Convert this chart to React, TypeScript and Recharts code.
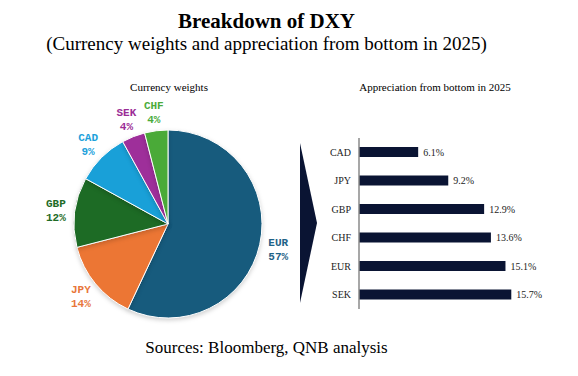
import React from "react";
import { PieChart, Pie, Cell, BarChart, Bar, XAxis, YAxis, LabelList } from "recharts";

const weightNames = ["EUR", "JPY", "GBP", "CAD", "SEK", "CHF"];
const weightValues = [57, 14, 12, 9, 4, 4];
const sliceColors = ["#175b7d", "#ec7634", "#1d6b25", "#19a0d8", "#9e2f9a", "#4aaa38"];
const labelColors = ["#1f6287", "#e8763a", "#1e6b26", "#1ba1db", "#9b2d96", "#4bab3b"];

const apprNames = ["CAD", "JPY", "GBP", "CHF", "EUR", "SEK"];
const apprValues = [6.1, 9.2, 12.9, 13.6, 15.1, 15.7];

const pieData = weightNames.map((name, i) => ({ name, value: weightValues[i] }));
const barData = apprNames.map((name, i) => ({ name, value: apprValues[i] }));

const serif = "'Liberation Serif', 'Times New Roman', serif";
const mono = "'Liberation Mono', 'DejaVu Sans Mono', monospace";

const renderPieLabel = (props: any) => {
  const { cx, cy, midAngle, outerRadius, index, name, value } = props;
  const rad = Math.PI / 180;
  const r = outerRadius + 19;
  const x = cx + r * Math.cos(-midAngle * rad);
  const y = cy + r * Math.sin(-midAngle * rad);
  return (
    <text x={x} y={y} textAnchor="middle" fill={labelColors[index]} fontFamily={mono} fontSize={11} fontWeight="bold">
      <tspan x={x} dy={-3}>{name}</tspan>
      <tspan x={x} dy={14}>{value}%</tspan>
    </text>
  );
};

export default function App() {
  return (
    <div style={{ position: "absolute", left: 0, top: 0, width: 578, height: 376, background: "#fff", fontFamily: serif, color: "#000" }}>
      <style>{`.recharts-pie-sector path { filter: drop-shadow(0 2px 2px rgba(0,0,0,0.18)); }`}</style>
      <div style={{ position: "absolute", left: 0, top: 9, width: 533, textAlign: "center", fontSize: 21, fontWeight: "bold", lineHeight: "24px" }}>
        Breakdown of DXY
      </div>
      <div style={{ position: "absolute", left: 0, top: 32, width: 533, textAlign: "center", fontSize: 19, lineHeight: "24px" }}>
        (Currency weights and appreciation from bottom in 2025)
      </div>

      <div style={{ position: "absolute", left: 69, top: 80, width: 200, textAlign: "center", fontSize: 11, lineHeight: "14px" }}>
        Currency weights
      </div>
      <div style={{ position: "absolute", left: 335, top: 80, width: 200, textAlign: "center", fontSize: 11, lineHeight: "14px" }}>
        Appreciation from bottom in 2025
      </div>

      <div style={{ position: "absolute", left: 0, top: 0 }}>
        <PieChart width={300} height={330} margin={{ top: 0, right: 0, bottom: 0, left: 0 }}>
          <Pie
            data={pieData}
            dataKey="value"
            nameKey="name"
            cx={168}
            cy={224}
            outerRadius={94}
            startAngle={90}
            endAngle={-270}
            stroke="#fff"
            strokeWidth={1}
            label={renderPieLabel}
            labelLine={false}
            isAnimationActive={false}
          >
            {pieData.map((d, i) => (
              <Cell key={d.name} fill={sliceColors[i]} />
            ))}
          </Pie>
        </PieChart>
      </div>

      <svg style={{ position: "absolute", left: 0, top: 0 }} width={578} height={376}>
        <polygon points="300,143 317,223 300,303" fill="#0a1433" />
      </svg>

      <div style={{ position: "absolute", left: 300, top: 130 }}>
        <BarChart width={270} height={190} data={barData} layout="vertical" margin={{ top: 8, right: 17, bottom: 11, left: 0 }} barSize={10}>
          <XAxis type="number" domain={[0, 20]} hide />
          <YAxis
            type="category"
            dataKey="name"
            width={59}
            tickLine={false}
            axisLine={{ stroke: "#8a8a8a", strokeWidth: 1.5 }}
            tick={{ fontSize: 10, fill: "#222", fontFamily: serif }}
          />
          <Bar dataKey="value" fill="#0a1433" isAnimationActive={false}>
            <LabelList dataKey="value" position="right" offset={5} formatter={(v: any) => `${v}%`} style={{ fontSize: 10, fill: "#222", fontFamily: serif }} />
          </Bar>
        </BarChart>
      </div>

      <div style={{ position: "absolute", left: 0, top: 338, width: 533, textAlign: "center", fontSize: 17, lineHeight: "20px" }}>
        Sources: Bloomberg, QNB analysis
      </div>
    </div>
  );
}
